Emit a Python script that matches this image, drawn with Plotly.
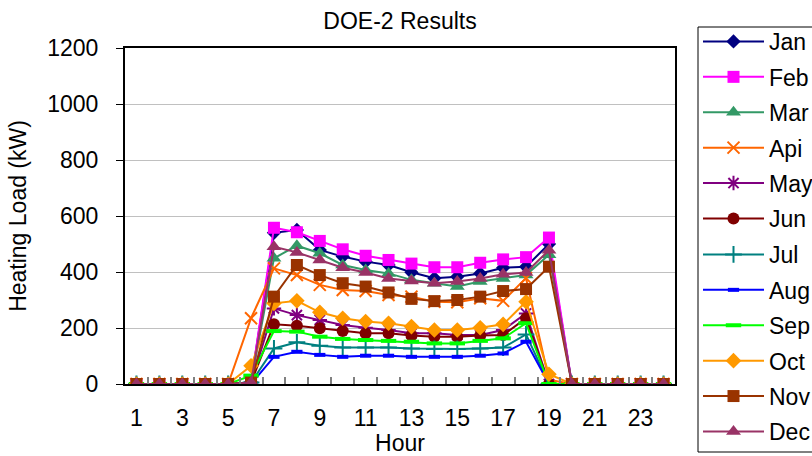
import plotly.graph_objects as go

hours = list(range(1, 25))
months = ["Jan", "Feb", "Mar", "Api", "May", "Jun", "Jul", "Aug", "Sep", "Oct", "Nov", "Dec"]

z5 = [0, 0, 0, 0, 0]
z5b = [0, 0, 0, 0, 0]
jan = z5 + [5, 540, 550, 479, 455, 437, 425, 399, 378, 383, 395, 415, 419, 500] + z5b
feb = z5 + [5, 558, 542, 511, 481, 458, 443, 430, 417, 417, 433, 445, 453, 523] + z5b
mar = z5 + [5, 449, 494, 467, 425, 407, 395, 372, 360, 348, 366, 377, 389, 462] + z5b
api = z5 + [235, 413, 389, 354, 336, 332, 318, 312, 294, 292, 306, 297, 378, 15] + z5b
may = z5 + [5, 270, 246, 229, 211, 201, 193, 181, 181, 175, 175, 193, 252, 0] + z5b
jun = z5 + [5, 213, 208, 199, 189, 181, 181, 173, 169, 169, 173, 175, 235, 0] + z5b
jul = z5 + [5, 127, 149, 137, 130, 130, 130, 127, 125, 125, 127, 130, 177, 0] + z5b
aug = z5 + [0, 97, 115, 104, 97, 101, 101, 97, 97, 97, 101, 109, 151, 0] + z5b
sep = z5 + [30, 189, 187, 169, 161, 157, 154, 151, 145, 145, 154, 163, 217, 0] + z5b
octo = z5 + [65, 288, 297, 256, 235, 223, 217, 205, 193, 193, 201, 213, 294, 35] + z5b
nov = z5 + [5, 312, 425, 389, 360, 348, 327, 304, 296, 300, 312, 332, 339, 419] + z5b
dec = z5 + [5, 490, 470, 443, 415, 398, 377, 368, 360, 366, 377, 392, 398, 478] + z5b

series = [jan, feb, mar, api, may, jun, jul, aug, sep, octo, nov, dec]
colors = ["#000080", "#FF00FF", "#339966", "#FF6600", "#800080", "#800000",
          "#008080", "#0000FF", "#00FF00", "#FF9900", "#993300", "#993366"]
symbols = ["diamond", "square", "triangle-up", "x-thin-open", "asterisk-open", "circle",
           "cross-thin-open", "line-ew-open", "line-ew-open", "diamond", "square", "triangle-up"]
sizes = [11, 12, 13, 12, 12, 12, 12, 8, 11, 12, 12, 13]

xtick_vals = list(range(1, 24, 2))
xtick_text = [str(v) for v in xtick_vals]
ytick_vals = [0, 200, 400, 600, 800, 1000, 1200]

FONT = "Liberation Sans, Arial, sans-serif"
FS = 23
W, H = 812, 456
ROW = 35.5
LEG_TOP = 20

fig = go.Figure()
for i, (name, ys) in enumerate(zip(months, series)):
    sym = symbols[i]
    open_sym = sym.endswith("-open")
    mline = dict(color=colors[i], width=2 if sym != "line-ew-open" else 4) if open_sym else dict(width=0)
    fig.add_trace(go.Scatter(
        x=hours, y=ys, name=name, mode="lines+markers",
        legend="legend" if i < 6 else "legend2",
        legendgroup=name,
        line=dict(color=colors[i], width=2),
        marker=dict(symbol=sym, size=sizes[i], color=colors[i], line=mline),
    ))

leg_common = dict(xref="container", yref="container", x=698 / W, xanchor="left", yanchor="top",
                  borderwidth=0, bgcolor="rgba(0,0,0,0)", font=dict(size=FS),
                  itemwidth=61, tracegroupgap=2.5, traceorder="grouped")

fig.update_layout(
    width=W, height=H,
    margin=dict(l=125, r=137, t=48, b=72, autoexpand=False),
    paper_bgcolor="white", plot_bgcolor="white",
    font=dict(family=FONT, size=FS, color="black"),
    title=dict(text="DOE-2 Results", x=400 / W, xanchor="center", y=1 - 21 / H, yanchor="middle",
               font=dict(size=FS)),
    showlegend=True,
    legend=dict(y=1 - LEG_TOP / H, **leg_common),
    legend2=dict(y=1 - (LEG_TOP + 6 * ROW) / H, **leg_common),
    shapes=[dict(type="rect", xref="paper", yref="paper",
                 x0=(698 - 125) / 550, x1=(830 - 125) / 550,
                 y0=(384 - 452) / 336, y1=(384 - 27) / 336,
                 line=dict(color="black", width=1), fillcolor="rgba(0,0,0,0)", layer="above")],
    xaxis=dict(range=[0.5, 24.5], tickvals=xtick_vals, ticktext=xtick_text, ticks="",
               ticklabelstandoff=12,
               showgrid=False, zeroline=False, showline=True, linecolor="black", linewidth=2,
               mirror=True, tickfont=dict(size=FS),
               minor=dict(tickvals=[h + 0.5 for h in range(1, 24)], ticks="inside", ticklen=7,
                          tickcolor="#808080", tickwidth=2, showgrid=False),
               title=dict(text="Hour", font=dict(size=FS), standoff=9)),
    yaxis=dict(range=[0, 1200], tickvals=ytick_vals, ticks="outside", ticklen=7, tickcolor="black",
               tickwidth=1, ticklabelstandoff=13,
               showgrid=True, gridcolor="#C0C0C0", gridwidth=1, zeroline=False,
               showline=True, linecolor="black", linewidth=2, mirror=True, tickfont=dict(size=FS),
               title=dict(text="Heating Load (kW)", font=dict(size=FS), standoff=14)),
)

fig.write_html("out.html")
